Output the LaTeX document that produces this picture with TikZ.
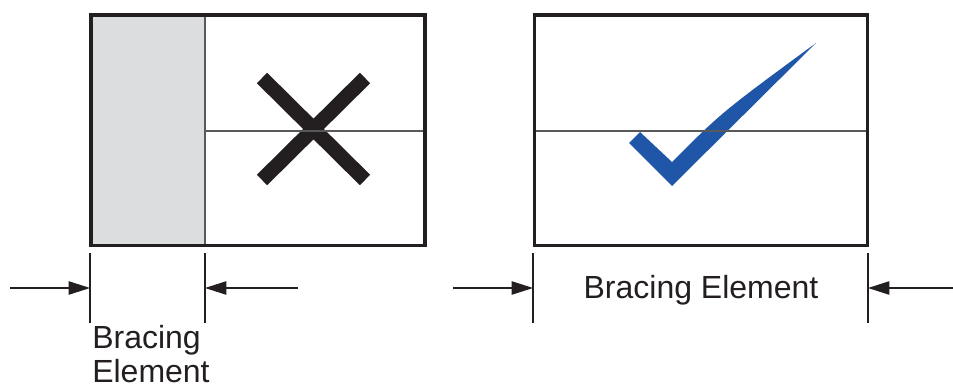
\documentclass[tikz,border=0pt]{standalone}
\usepackage{fontspec}
\setmainfont{Liberation Sans}
\usetikzlibrary{arrows.meta}
\definecolor{braceGray}{RGB}{220,221,223}
\definecolor{checkBlue}{RGB}{31,86,168}
\definecolor{inkDark}{RGB}{35,31,32}
\tikzset{
  frame/.style={line width=2.8pt, draw=inkDark},
  divider/.style={line width=1.2pt, draw=black!65},
  extline/.style={line width=1pt, draw=inkDark},
  dimarrow/.style={line width=1pt, draw=inkDark, -{Triangle[length=16pt,width=10pt]}},
  lbl/.style={font=\fontsize{24}{27}\selectfont, text=inkDark, inner sep=0pt}
}
\begin{document}
\begin{tikzpicture}[x=0.75pt,y=-0.75pt]
      \useasboundingbox (0,0) rectangle (953,388);
      \coordinate (lnw) at (91,15);
      \coordinate (lse) at (425,245.5);
      \coordinate (gtop) at (205,15);
      \coordinate (gbot) at (205,245.5);
      \coordinate (lmid) at (205,131);
      \coordinate (lmidE) at (425,131);
      \coordinate (rnw) at (534.5,15);
      \coordinate (rse) at (867.5,245.5);
      \coordinate (rmidW) at (534.5,131);
      \coordinate (rmidE) at (867.5,131);
      \fill[braceGray] (lnw) rectangle (gbot);
      \draw[line width=11pt, draw=inkDark]
        (262,78) -- (365,180)
        (365,78) -- (262,180);
      \fill[checkBlue] (629,143) -- (640,132) -- (672,162)
        .. controls (722,112) .. (816,43) -- (672,186) -- cycle;
      \draw[divider] (gtop) -- (gbot);
      \draw[divider] (lmid) -- (lmidE);
      \draw[divider] (rmidW) -- (rmidE);
      \draw[frame] (lnw) rectangle (lse);
      \draw[frame] (rnw) rectangle (rse);
      \draw
        (90,253) coordinate (e1t) (90,323) coordinate (e1b)
        (205,253) coordinate (e2t) (205,323) coordinate (e2b)
        (533,253) coordinate (e3t) (533,323) coordinate (e3b)
        (868,253) coordinate (e4t) (868,323) coordinate (e4b)
        (10,288) coordinate (a1s) (90,288) coordinate (a1e)
        (298,288) coordinate (a2s) (205,288) coordinate (a2e)
        (453,288) coordinate (a3s) (533,288) coordinate (a3e)
        (953,288) coordinate (a4s) (868,288) coordinate (a4e);
      \begin{scope}[extline]
        \draw (e1t) to (e1b);
        \draw (e2t) to (e2b);
        \draw (e3t) to (e3b);
        \draw (e4t) to (e4b);
      \end{scope}
      \begin{scope}[dimarrow]
        \draw (a1s) to (a1e);
        \draw (a2s) to (a2e);
        \draw (a3s) to (a3e);
        \draw (a4s) to (a4e);
      \end{scope}
      \node[lbl, anchor=base west] (lblA) at (92,349) {Bracing};
      \node[lbl, anchor=base west] (lblB) at (92,382) {Element};
      \node[lbl, anchor=base] (lblR) at (701,299) {Bracing Element};
    \end{tikzpicture}
\end{document}
